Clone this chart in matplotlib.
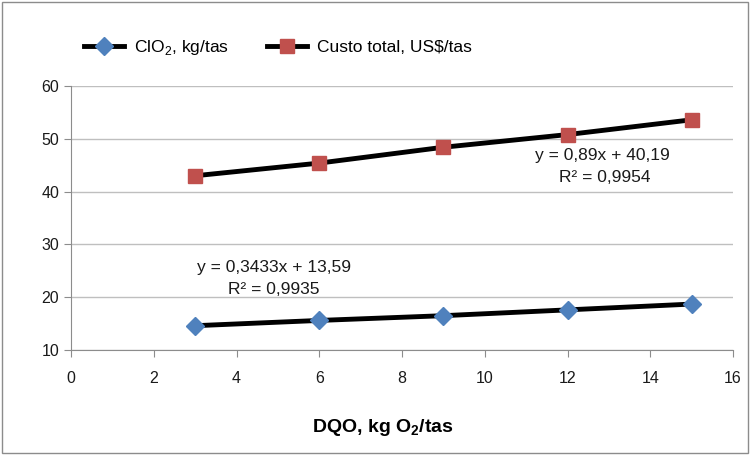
import matplotlib
matplotlib.use("Agg")
import matplotlib.pyplot as plt
from matplotlib import font_manager
from matplotlib.patches import Rectangle

x = [3, 6, 9, 12, 15]
clo2 = [14.6, 15.6, 16.5, 17.6, 18.7]
custo = [43.0, 45.4, 48.4, 50.8, 53.6]
series_labels = ["ClO$_2$, kg/tas", "Custo total, US$/tas"]
eq_clo2 = ["y = 0,3433x + 13,59", "R² = 0,9935"]
eq_custo = ["y = 0,89x + 40,19", "R² = 0,9954"]
xticks = list(range(0, 17, 2))
yticks = list(range(10, 61, 10))

names = {f.name for f in font_manager.fontManager.ttflist}
narrow = 'Liberation Sans Narrow' if 'Liberation Sans Narrow' in names else 'Liberation Sans'
narrow_scale = 1.0 if narrow == 'Liberation Sans Narrow' else 0.85

plt.rcParams['font.family'] = ['Liberation Sans', 'DejaVu Sans']
plt.rcParams['mathtext.fontset'] = 'custom'
plt.rcParams['mathtext.rm'] = 'Liberation Sans'
plt.rcParams['mathtext.bf'] = 'Liberation Sans:bold'

fig = plt.figure(figsize=(7.52, 4.55), dpi=100)
ax = fig.add_axes([71/752, 1-350/455, (733-71)/752, (350-86)/455])

axis_gray = '#8c8c8c'
ax.plot(x, clo2, color='black', lw=3.5, marker='D', ms=9, mfc='#4f81bd', mec='#4f81bd',
        label=series_labels[0], zorder=3)
ax.plot(x, custo, color='black', lw=3.5, marker='s', ms=10, mfc='#c0504d', mec='#c0504d',
        label=series_labels[1], zorder=3)

ax.set_xlim(0, 16)
ax.set_ylim(10, 60)
ax.set_xticks(xticks)
ax.set_yticks(yticks)
ax.grid(axis='y', color='#bfbfbf', lw=1)
ax.set_axisbelow(True)
for s in ['top', 'right']:
    ax.spines[s].set_visible(False)
for s in ['left', 'bottom']:
    ax.spines[s].set_color(axis_gray)
ax.tick_params(axis='both', colors=axis_gray, labelcolor='#1a1a1a', length=5)
for lab in ax.get_xticklabels() + ax.get_yticklabels():
    lab.set_fontfamily(narrow)
    lab.set_fontsize(13.5 * narrow_scale / 0.85 if narrow != 'Liberation Sans' else 11.5)
ax.tick_params(axis='x', pad=10)

efs = 14 if narrow == 'Liberation Sans Narrow' else 12.5
ax.text(4.9, 25.7, eq_clo2[0], ha='center', va='center', fontsize=efs, color='#1a1a1a', family=narrow)
ax.text(4.9, 21.4, eq_clo2[1], ha='center', va='center', fontsize=efs, color='#1a1a1a', family=narrow)
ax.text(12.85, 46.9, eq_custo[0], ha='center', va='center', fontsize=efs, color='#1a1a1a', family=narrow)
ax.text(12.9, 42.6, eq_custo[1], ha='center', va='center', fontsize=efs, color='#1a1a1a', family=narrow)

fig.legend(loc='upper left', bbox_to_anchor=(68/752, 1-22/455), ncol=2, frameon=False,
           fontsize=12.5, handlelength=2.3, columnspacing=2.2, handletextpad=0.6)

fig.text(383/752, 1-427/455, "DQO, kg O$_\\mathbf{2}$/tas", ha='center', va='center',
         fontsize=14, fontweight='bold', family=narrow if narrow != 'Liberation Sans' else 'Liberation Sans')

fig.patches.append(Rectangle((2/752, 2/455), 746/752, 451/455, transform=fig.transFigure,
                             fill=False, ec='#8c8c8c', lw=1))

fig.savefig("out.png", dpi=100)
